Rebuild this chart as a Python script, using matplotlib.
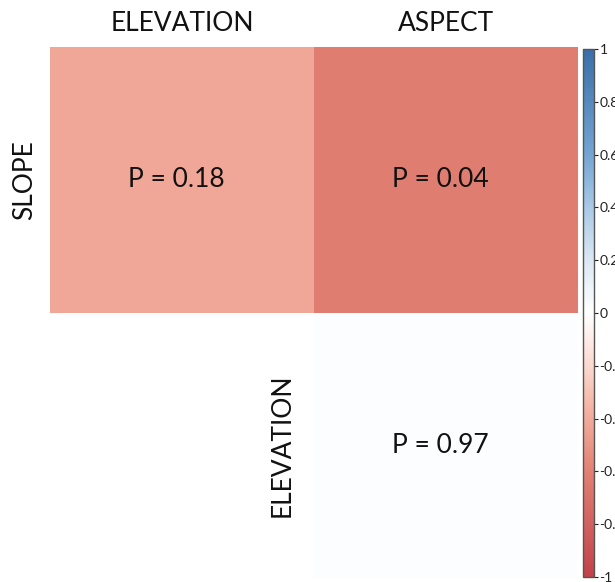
import numpy as np
import matplotlib
matplotlib.use("Agg")
import matplotlib.pyplot as plt
from matplotlib.colors import LinearSegmentedColormap

plt.rcParams['font.family'] = ['Lato', 'DejaVu Sans']

col_labels = ["ELEVATION", "ASPECT"]
row_labels = ["SLOPE", "ELEVATION"]
# correlation-like values used for the colour of each cell (lower-left empty)
corr_values = [[-0.42, -0.62],
               [np.nan, 0.02]]
p_labels = [["P = 0.18", "P = 0.04"],
            [None, "P = 0.97"]]
cbar_ticks = [1, 0.8, 0.6, 0.4, 0.2, 0, -0.2, -0.4, -0.6, -0.8, -1]

cmap = LinearSegmentedColormap.from_list(
    "corr",
    [(0.0, "#c2414a"), (0.2, "#e28173"), (0.3, "#f2ab9b"), (0.4, "#fbd9cf"),
     (0.5, "#ffffff"), (0.6, "#dbe8f4"), (0.7, "#a9c9e6"), (0.8, "#74a6d3"),
     (1.0, "#3a6ea8")])

fig = plt.figure(figsize=(6.15, 5.82), dpi=100)
ax = fig.add_axes([50/615, 1-578/582, 528/615, 531/582])
data = np.ma.masked_invalid(np.array(corr_values, dtype=float))
mesh = ax.pcolormesh(np.arange(3), np.arange(3), data, cmap=cmap, vmin=-1, vmax=1)
ax.set_xlim(0, 2)
ax.set_ylim(2, 0)
ax.axis('off')

for i in range(2):
    for j in range(2):
        if p_labels[i][j]:
            ax.text(j + 0.48, i + 0.5, p_labels[i][j], ha='center', va='center',
                    fontsize=19, color='#111111')

# column labels on top
for j, lab in enumerate(col_labels):
    ax.text(j + 0.5, -0.09, lab, ha='center', va='center', fontsize=19,
            color='#111111', clip_on=False)
# row labels (upper-triangle style)
ax.text(-0.095, 0.5, row_labels[0], rotation=90, ha='center', va='center',
        fontsize=19, color='#111111', clip_on=False)
ax.text(0.88, 1.5, row_labels[1], rotation=90, ha='center', va='center',
        fontsize=19, color='#111111', clip_on=False)

cax = fig.add_axes([583/615, 1-577/582, 11/615, 528/582])
cb = fig.colorbar(mesh, cax=cax, ticks=cbar_ticks)
cb.outline.set_edgecolor('#555555')
cb.outline.set_linewidth(1.0)
cb.ax.set_yticklabels(["%g" % t for t in cbar_ticks])
cb.ax.tick_params(length=3, width=0.8, pad=1, labelsize=10, colors='#222222')

fig.savefig("out.png", dpi=100)
